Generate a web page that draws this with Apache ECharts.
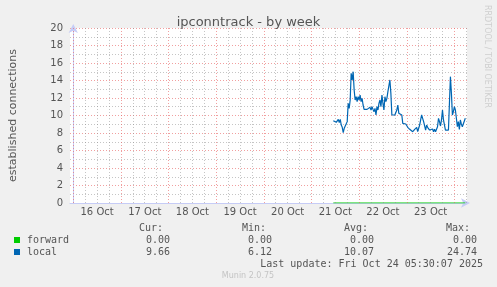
<!DOCTYPE html>
<html><head><meta charset="utf-8">
<script src="https://cdn.jsdelivr.net/npm/echarts@6/dist/echarts.min.js"></script>
<style>html,body{margin:0;padding:0;background:#f0f0f0;}#c{width:497px;height:287px;}</style>
</head><body><div id="c"></div>
<script>
// ---- data ----
const titleText = 'ipconntrack - by week';
const yAxisName = 'established connections';
const dayLabels = ['16 Oct','17 Oct','18 Oct','19 Oct','20 Oct','21 Oct','22 Oct','23 Oct'];
// hours counted from 16 Oct 00:00
const xMin = -1.65, xMax = 198.35;
const startHour = 131;      // first sample (21 Oct 11:00)
const stepHours = 0.5;      // 30 min resolution
const localValues = [
 9.41,9.30,9.49,9.22,9.41,9.56,9.18,9.56,8.91,8.65,
 8.04,8.53,8.34,8.42,9.30,11.39,10.82,11.77,14.82,14.06,
 15.01,12.91,11.77,12.15,11.58,12.15,11.77,12.34,11.58,11.96,
 11.20,10.70,10.63,10.55,10.70,10.82,10.63,10.93,10.63,11.01,
 10.70,10.44,10.82,10.06,11.01,10.63,11.39,11.77,11.01,12.34,
 11.39,10.63,12.15,11.58,11.96,12.72,12.91,14.06,12.53,10.06,
 10.06,10.06,10.06,10.06,10.63,11.20,10.25,10.06,10.06,10.06,
 9.10,9.03,9.03,9.03,8.91,8.65,8.46,8.42,8.34,8.34,
 8.15,8.04,8.42,8.46,8.65,8.15,8.27,8.91,9.49,10.06,
 9.68,9.30,9.30,8.34,8.91,8.65,8.65,8.34,8.46,8.23,
 8.46,8.15,8.42,8.15,8.27,8.72,9.68,9.30,8.80,9.49,
 10.63,9.49,8.91,8.34,8.34,8.34,8.34,11.39,14.44,12.53,
 10.06,10.44,11.01,10.63,9.68,8.72,9.30,8.42,9.49,9.03,
 8.72,8.80,8.80,9.68
];
const forwardValues = [
 0,0,0,0,0,0,0,0,0,0, 0,0,0,0,0,0,0,0,0,0, 0,0,0,0,0,0,0,0,0,0,
 0,0,0,0,0,0,0,0,0,0, 0,0,0,0,0,0,0,0,0,0, 0,0,0,0,0,0,0,0,0,0,
 0,0,0,0,0,0,0,0,0,0, 0,0,0,0,0,0,0,0,0,0, 0,0,0,0,0,0,0,0,0,0,
 0,0,0,0,0,0,0,0,0,0, 0,0,0,0,0,0,0,0,0,0, 0,0,0,0,0,0,0,0,0,0,
 0,0,0,0,0,0,0,0,0,0, 0,0,0,0
];
const seriesNames = ['forward','local'];
const seriesColors = ['#00cc00','#0066b3'];
const statHeaders = ['Cur:','Min:','Avg:','Max:'];
const forwardStats = ['0.00','0.00','0.00','0.00'];
const localStats = ['9.66','6.12','10.07','24.74'];
const lastUpdate = 'Last update: Fri Oct 24 05:30:07 2025';
const footer = 'Munin 2.0.75';
const sideText = 'RRDTOOL / TOBI OETIKER';

// ---- build ----
const toPairs = vals => vals.map((v, i) => [startHour + i * stepHours, v]);
const labelHours = dayLabels.map((d, i) => 12 + 24 * i);
const majorV = [], minorV = [];
for (let h = 0; h <= xMax; h += 6) { (h % 24 === 0 ? majorV : minorV).push(h); }
const redGrid = 'rgba(232,95,95,0.6)';
const grayGrid = 'rgba(140,140,140,0.5)';
const vLines = minorV.map(h => ({xAxis: h, lineStyle: {color: grayGrid, type: [1,2], width: 1}}))
  .concat(majorV.map(h => ({xAxis: h, lineStyle: {color: redGrid, type: [1,2], width: 1}})));

const mono = '"DejaVu Sans Mono", monospace';
const txtColor = '#555';
const graphics = [];
const colRight = [170, 272, 374, 477];
const hdrRight = [163, 266, 368, 470];
statHeaders.forEach((h, i) => graphics.push({type:'text', x: hdrRight[i], y: 228, style:{text:h, font:'10px '+mono, fill:txtColor, textAlign:'right', textVerticalAlign:'middle'}}));
[[forwardStats, 240], [localStats, 252]].forEach(([st, y], r) => {
  graphics.push({type:'rect', shape:{x:14, y:y-3, width:6, height:6}, style:{fill: seriesColors[r]}});
  graphics.push({type:'text', x: 27, y: y, style:{text: seriesNames[r], font:'10px '+mono, fill:txtColor, textVerticalAlign:'middle'}});
  st.forEach((v, i) => graphics.push({type:'text', x: colRight[i], y: y, style:{text:v, font:'10px '+mono, fill:txtColor, textAlign:'right', textVerticalAlign:'middle'}}));
});
graphics.push({type:'text', x: 483, y: 264, style:{text:lastUpdate, font:'10px '+mono, fill:txtColor, textAlign:'right', textVerticalAlign:'middle'}});
graphics.push({type:'text', x: 248, y: 276, style:{text:footer, font:'8px "DejaVu Sans"', fill:'#c4c4c4', textAlign:'center', textVerticalAlign:'middle'}});
graphics.push({type:'text', x: 487, y: 5, rotation: -Math.PI/2, style:{text:sideText, font:'8px "DejaVu Sans"', fill:'#cfcfcf', textAlign:'left', textVerticalAlign:'middle'}});

const chart = echarts.init(document.getElementById('c'), null, {renderer:'canvas'});
chart.setOption({
  backgroundColor: '#f0f0f0',
  animation: false,
  title: {text: titleText, left: 'center', top: 11, textStyle: {fontFamily:'DejaVu Sans', fontSize: 13, fontWeight:'normal', color: txtColor}},
  grid: {left: 67, top: 28, width: 400, height: 175, show: true, backgroundColor: '#ffffff', borderWidth: 0},
  xAxis: {
    type: 'value', min: xMin, max: xMax,
    axisLine: {show: true, lineStyle: {color: '#c6ccf6', width: 1}, symbol: ['none','arrow'], symbolSize: [7, 9], symbolOffset: [0, 3]},
    axisTick: {show: false},
    splitLine: {show: false},
    axisLabel: {customValues: labelHours, formatter: v => dayLabels[Math.round((v - 12) / 24)] || '', fontFamily:'DejaVu Sans', fontSize: 10, color: txtColor, margin: 4}
  },
  yAxis: {
    type: 'value', min: 0, max: 20, interval: 2,
    name: yAxisName, nameLocation: 'middle', nameGap: 51, nameRotate: 90,
    nameTextStyle: {fontFamily:'DejaVu Sans', fontSize: 11, color: txtColor},
    axisLine: {show: true, lineStyle: {color: '#c6ccf6', width: 1}, symbol: ['none','arrow'], symbolSize: [7, 9], symbolOffset: [0, 4]},
    axisTick: {show: false},
    axisLabel: {fontFamily:'DejaVu Sans', fontSize: 10, color: txtColor, margin: 7},
    splitLine: {show: true, lineStyle: {color: redGrid, type: [1,2], width: 1}},
    minorTick: {show: false, splitNumber: 2},
    minorSplitLine: {show: true, lineStyle: {color: grayGrid, type: [1,2], width: 1}}
  },
  series: [
    {type: 'line', data: [], silent: true, z: 1,
     markLine: {silent: true, symbol: 'none', label: {show: false}, animation: false, data: vLines}},
    {name: seriesNames[0], type: 'line', data: toPairs(forwardValues), showSymbol: false, z: 4,
     lineStyle: {color: seriesColors[0], width: 1.2}, itemStyle: {color: seriesColors[0]}},
    {name: seriesNames[1], type: 'line', data: toPairs(localValues), showSymbol: false, z: 5,
     lineStyle: {color: seriesColors[1], width: 1.2}, itemStyle: {color: seriesColors[1]}}
  ],
  graphic: graphics
});
</script></body></html>
